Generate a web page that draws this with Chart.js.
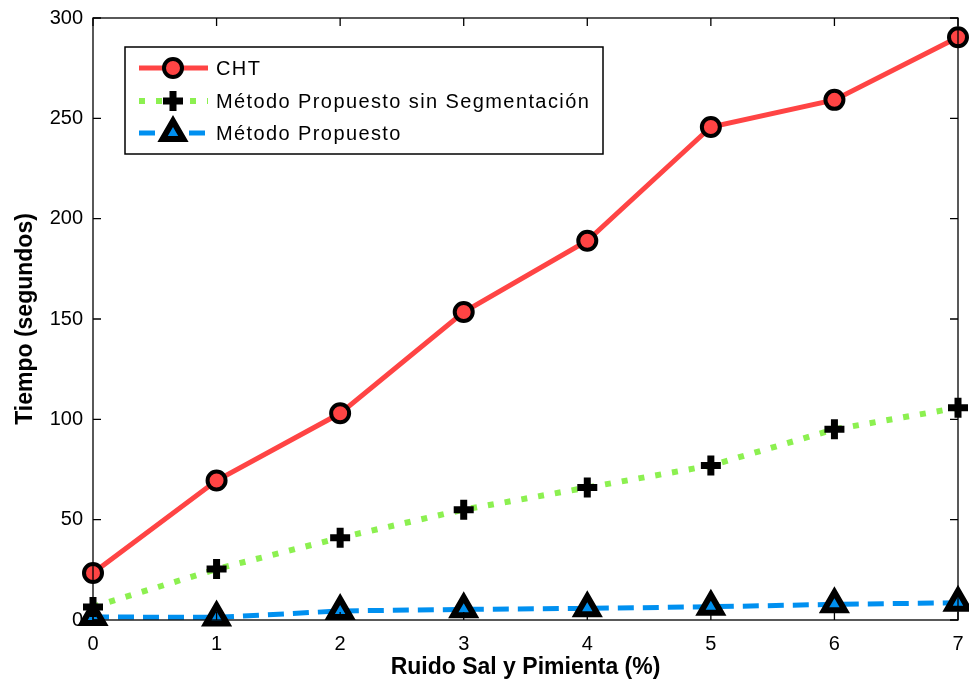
<!DOCTYPE html>
<html>
<head>
<meta charset="utf-8">
<script src="https://cdn.jsdelivr.net/npm/chart.js@4"></script>
<style>
  body { margin: 0; background: #fff; }
  #wrap { width: 969px; height: 685px; }
</style>
</head>
<body>
<div id="wrap"><canvas id="chart" width="969" height="685"></canvas></div>
<script>
// ruido sal y pimienta (%)
const ruido = [0, 1, 2, 3, 4, 5, 6, 7];
// tiempos en segundos
const cht = [23.4, 69.5, 103, 153.5, 189, 245.7, 259.2, 290.4];
const sinSegmentacion = [6.5, 25.4, 41, 55, 66, 77, 95, 105.8];
const propuesto = [1.5, 1.3, 4.5, 5.3, 5.8, 6.6, 7.8, 8.6];
const yTicks = [0, 50, 100, 150, 200, 250, 300];

const font = "'Liberation Sans', Arial, sans-serif";

// cuadro, ticks hacia dentro y leyenda al estilo matlab
const matlabPlugin = {
    id: 'matlab',
    afterDatasetsDraw(chart) {
        const ctx = chart.ctx;
        const a = chart.chartArea;
        const xs = chart.scales.x, ys = chart.scales.y;
        ctx.save();
        ctx.strokeStyle = '#000';
        ctx.lineWidth = 1.3;
        ctx.beginPath();
        ruido.forEach(v => {
            const px = xs.getPixelForValue(v);
            ctx.moveTo(px, a.bottom); ctx.lineTo(px, a.bottom - 8);
            ctx.moveTo(px, a.top); ctx.lineTo(px, a.top + 8);
        });
        yTicks.forEach(v => {
            const py = ys.getPixelForValue(v);
            ctx.moveTo(a.left, py); ctx.lineTo(a.left + 8, py);
            ctx.moveTo(a.right, py); ctx.lineTo(a.right - 8, py);
        });
        ctx.stroke();
        ctx.strokeRect(a.left, a.top, a.right - a.left, a.bottom - a.top);

        // leyenda
        const box = { x: 125, y: 47, w: 478, h: 107 };
        ctx.fillStyle = '#fff';
        ctx.fillRect(box.x, box.y, box.w, box.h);
        ctx.lineWidth = 1.5;
        ctx.strokeRect(box.x, box.y, box.w, box.h);
        const rows = [68, 101, 133];
        chart.data.datasets.forEach((ds, i) => {
            const y = rows[i];
            ctx.save();
            ctx.strokeStyle = ds.borderColor;
            ctx.lineWidth = ds.borderWidth;
            ctx.setLineDash(ds.borderDash || []);
            ctx.beginPath();
            ctx.moveTo(139, y); ctx.lineTo(208, y);
            ctx.stroke();
            ctx.restore();
            ctx.save();
            ctx.fillStyle = ds.pointBackgroundColor;
            ctx.strokeStyle = ds.pointBorderColor;
            ctx.lineWidth = ds.pointBorderWidth;
            Chart.helpers.drawPoint(ctx, {
                pointStyle: ds.pointStyle, radius: ds.pointRadius,
                borderWidth: ds.pointBorderWidth, rotation: 0
            }, 173, y);
            ctx.restore();
            ctx.save();
            ctx.fillStyle = '#000';
            ctx.font = '20px ' + font;
            ctx.letterSpacing = '1.4px';
            ctx.textBaseline = 'middle';
            ctx.fillText(ds.label, 216, y + 1);
            ctx.restore();
        });
        ctx.restore();
    }
};

new Chart(document.getElementById('chart'), {
    type: 'line',
    data: {
        labels: ruido,
        datasets: [{
            label: 'CHT',
            data: cht,
            borderColor: '#ff4444',
            borderWidth: 5,
            pointStyle: 'circle',
            pointRadius: 9,
            pointBorderWidth: 4,
            pointBackgroundColor: '#ff4444',
            pointBorderColor: '#000',
            clip: false
        }, {
            label: 'Método Propuesto sin Segmentación',
            data: sinSegmentacion,
            borderColor: '#8cf050',
            borderWidth: 6,
            borderDash: [6, 11],
            pointStyle: 'cross',
            pointRadius: 10,
            pointBorderWidth: 7,
            pointBackgroundColor: '#000',
            pointBorderColor: '#000',
            clip: false
        }, {
            label: 'Método Propuesto',
            data: propuesto,
            borderColor: '#0090f0',
            borderWidth: 5,
            borderDash: [16, 9],
            pointStyle: 'triangle',
            pointRadius: 12,
            pointBorderWidth: 6,
            pointBackgroundColor: '#0090f0',
            pointBorderColor: '#000',
            clip: false
        }]
    },
    options: {
        responsive: false,
        animation: false,
        layout: { autoPadding: false, padding: { top: 18, right: 11, left: 8, bottom: 0 } },
        plugins: { legend: { display: false }, tooltip: { enabled: false } },
        scales: {
            x: {
                type: 'linear',
                min: 0, max: 7,
                afterFit: s => { s.height = 65; s.paddingLeft = 0; s.paddingRight = 0; },
                grid: { display: false },
                border: { display: false },
                ticks: { stepSize: 1, color: '#000', padding: 4, font: { family: font, size: 20 } },
                title: { display: true, text: 'Ruido Sal y Pimienta (%)', color: '#000',
                         padding: { top: 5 }, font: { family: font, size: 23, weight: 'bold' } }
            },
            y: {
                min: 0, max: 300,
                afterFit: s => { s.width = 85; s.paddingTop = 0; s.paddingBottom = 0; },
                grid: { display: false },
                border: { display: false },
                ticks: { stepSize: 50, color: '#000', padding: 2, font: { family: font, size: 20 } },
                title: { display: true, text: 'Tiempo (segundos)', color: '#000',
                         padding: { bottom: 6 }, font: { family: font, size: 23, weight: 'bold' } }
            }
        }
    },
    plugins: [matlabPlugin]
});
</script>
</body>
</html>
